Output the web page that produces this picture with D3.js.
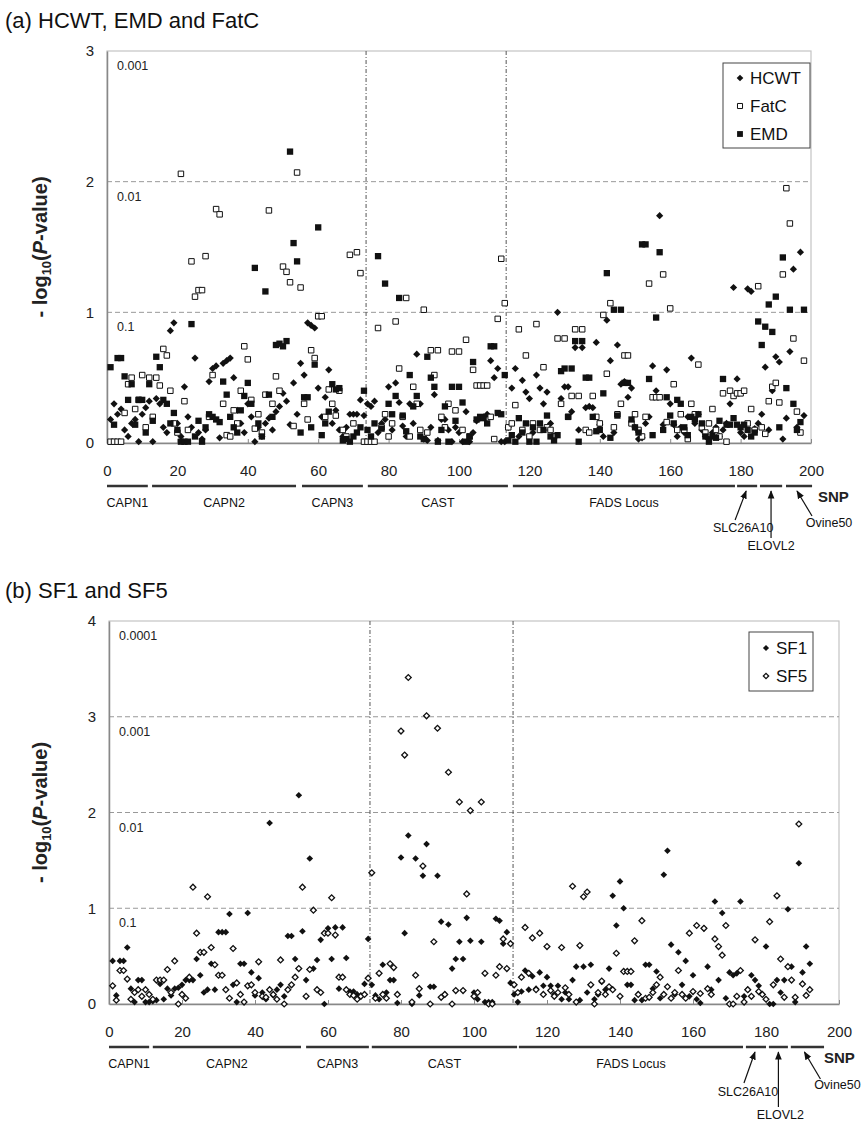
<!DOCTYPE html>
<html><head><meta charset="utf-8">
<script src="https://cdn.jsdelivr.net/npm/d3@7"></script>
<style>
body{margin:0;background:#fff;}
svg{display:block;font-family:"Liberation Sans",Arial,sans-serif;}
</style>
</head><body>
<svg id="c" width="865" height="1129"></svg>
<script>
// ---------- DATA (index i -> SNP i+1) ----------
const hcwt = [
0.18,0.30,0.22,0.26,0.10,0.05,0.15,0.18,0.01,0.22,
0.27,0.32,0.01,0.34,0.30,0.12,0.08,0.86,0.92,0.15,
0.05,0.43,0.20,0.12,0.65,0.08,0.03,0.10,0.47,0.57,
0.59,0.04,0.61,0.63,0.65,0.50,0.25,0.15,0.08,0.30,
0.20,0.01,0.12,0.05,0.15,0.19,0.10,0.24,0.28,0.38,
0.32,0.14,0.46,0.22,0.61,0.52,0.92,0.90,0.88,0.42,
0.20,0.35,0.56,0.15,0.25,0.10,0.05,0.12,0.22,0.22,
0.22,0.33,0.21,0.30,0.28,0.32,0.08,0.15,0.18,0.43,
0.10,0.46,0.31,0.13,0.05,0.30,0.15,0.68,0.30,0.03,
0.02,0.12,0.37,0.02,0.18,0.18,0.10,0.01,0.12,0.08,
0.01,0.24,0.01,0.08,0.17,0.19,0.20,0.22,0.63,0.50,
0.57,0.01,0.01,0.12,0.42,0.57,0.05,0.48,0.39,0.34,
0.08,0.52,0.42,0.30,0.39,0.15,0.05,1.00,0.34,0.43,
0.43,0.24,0.73,0.10,0.73,0.27,0.28,0.27,0.77,0.14,
0.05,0.94,0.63,0.08,0.75,0.45,0.47,0.35,0.42,0.12,
0.03,0.04,0.15,0.20,0.59,0.40,1.74,0.14,0.56,0.30,
0.14,0.05,0.12,0.08,0.20,0.65,0.15,0.22,0.10,0.05,
0.03,0.08,0.12,0.05,0.10,0.15,0.30,1.19,0.49,0.08,
0.05,1.18,1.16,0.11,0.15,0.22,0.58,0.10,0.40,0.66,
0.62,0.03,0.19,0.70,1.33,0.12,1.46,0.21];
const fatc = [
0.01,0.01,0.01,0.01,0.23,0.45,0.50,0.26,0.33,0.52,
0.12,0.50,0.20,0.50,0.44,0.72,0.67,0.40,0.15,0.08,
2.06,0.32,0.10,1.39,1.12,1.17,1.17,1.43,0.20,0.52,
1.79,1.75,0.30,0.06,0.05,0.25,0.15,0.40,0.74,0.64,
0.33,0.11,0.22,0.08,0.37,1.78,0.30,0.51,0.40,1.35,
1.31,1.23,0.13,2.07,1.19,0.30,0.18,0.71,0.65,0.97,
0.97,0.20,0.41,0.30,0.21,0.40,0.10,0.05,1.44,0.15,
1.46,1.30,0.01,0.01,0.01,0.01,0.88,0.12,0.22,0.05,
0.15,0.93,0.57,0.20,1.11,0.05,0.43,0.30,0.10,1.02,
0.08,0.71,0.52,0.71,0.20,0.12,0.30,0.70,0.25,0.70,
0.10,0.79,0.05,0.56,0.44,0.44,0.44,0.44,0.20,0.03,
0.95,1.41,1.07,0.12,0.15,0.29,0.87,0.10,0.67,0.05,
0.15,0.91,0.10,0.58,0.12,0.10,0.05,0.80,0.30,0.80,
0.20,0.36,0.87,0.36,0.87,0.10,0.08,0.36,0.20,0.15,
0.98,0.53,1.07,0.12,0.22,0.30,0.67,0.67,0.15,0.22,
0.10,0.05,0.20,1.22,0.35,0.35,0.35,1.29,0.16,1.03,
0.45,0.10,0.22,0.10,0.03,0.30,0.22,0.60,0.12,0.08,
0.15,0.26,0.10,0.05,0.38,0.01,0.40,0.36,0.38,0.38,
0.40,0.15,0.26,0.10,1.20,0.12,0.07,0.32,0.43,0.46,
0.31,1.29,1.95,1.68,0.80,0.24,0.08,0.63];
const emd = [
0.58,0.14,0.65,0.65,0.51,0.33,0.45,0.14,0.33,0.33,
0.08,0.45,0.17,0.66,0.58,0.33,0.30,0.15,0.23,0.10,
0.01,0.01,0.01,0.91,0.05,0.17,0.01,0.12,0.22,0.20,
0.18,0.16,0.47,0.37,0.20,0.12,0.08,0.25,0.36,0.46,
0.30,1.34,0.15,0.05,1.16,0.37,0.20,0.75,0.76,0.74,
0.78,2.23,1.53,1.39,0.08,0.35,0.35,0.12,0.60,1.65,
0.06,0.15,0.24,0.45,0.41,0.42,0.02,0.03,0.01,0.05,
0.08,0.12,0.40,0.10,0.05,0.15,1.43,0.11,1.22,0.30,
0.22,0.36,1.11,0.21,0.09,0.52,0.28,0.36,0.05,0.03,
0.66,0.50,0.43,0.01,0.10,0.28,0.01,0.43,0.17,0.43,
0.31,0.01,0.05,0.62,0.18,0.20,0.19,0.15,0.74,0.74,
0.23,0.22,0.52,0.02,0.06,0.01,0.19,0.08,0.15,0.01,
0.12,0.01,0.15,0.10,0.21,0.05,0.02,0.06,0.55,0.57,
0.20,0.57,0.78,0.01,0.78,0.50,0.50,0.20,0.09,0.10,
0.38,1.30,0.04,1.02,0.21,1.02,0.46,0.46,0.18,0.12,
0.08,1.52,1.52,0.49,0.06,0.96,1.46,0.10,0.35,0.21,
0.15,0.33,0.30,0.12,0.06,0.20,0.18,0.22,0.15,0.05,
0.01,0.05,0.04,0.17,0.49,0.14,0.14,0.19,0.14,0.12,
0.14,0.10,0.05,0.08,0.93,0.75,0.89,1.06,0.85,1.12,
0.12,1.42,0.42,1.02,0.30,0.10,0.16,1.02];
const sf1 = [
0.45,0.09,0.45,0.45,0.59,0.16,0.02,0.25,0.25,0.02,
0.02,0.03,0.04,0.21,0.05,0.16,0.09,0.16,0.17,0.20,
0.25,0.25,0.25,0.47,0.30,0.12,0.15,0.42,0.15,0.75,
0.75,0.75,0.94,0.20,0.02,0.42,0.42,0.95,0.33,0.09,
0.27,0.12,0.05,1.89,0.09,0.15,0.20,0.08,0.71,0.71,
0.47,2.18,0.76,0.25,1.52,0.37,0.46,0.67,0.00,0.79,
0.47,0.80,0.16,0.80,0.48,0.13,0.13,0.10,0.09,0.21,
0.68,0.20,0.09,0.05,0.41,0.12,0.25,0.25,0.01,1.53,
0.74,1.76,0.00,1.52,0.09,1.34,1.67,0.18,0.18,1.34,
0.86,0.10,0.83,0.37,0.47,0.65,0.47,0.90,0.66,0.12,
0.05,0.65,0.02,0.02,0.02,0.89,0.87,0.63,0.75,0.22,
0.10,0.02,0.13,0.35,0.15,0.29,0.16,0.33,0.19,0.28,
0.19,0.10,0.19,0.05,0.12,0.05,0.25,0.39,0.04,0.39,
0.12,0.41,0.05,0.10,0.23,0.15,0.37,1.13,0.82,1.28,
1.00,0.20,0.20,0.04,0.10,0.04,0.41,0.41,0.16,0.34,
0.06,1.35,1.60,0.62,0.10,0.54,0.20,0.45,0.08,0.30,
0.05,0.01,0.79,0.39,0.15,1.07,0.25,0.95,0.06,0.33,
0.30,0.32,1.07,0.08,0.15,0.30,0.25,0.19,0.10,0.60,
0.00,0.00,0.25,0.12,0.25,0.99,0.39,0.02,1.47,0.33,
0.60,0.42];
const sf5 = [
0.19,0.04,0.35,0.35,0.26,0.05,0.12,0.15,0.08,0.15,
0.10,0.05,0.25,0.25,0.25,0.36,0.12,0.45,0.00,0.10,
0.06,0.28,1.22,0.74,0.54,0.54,1.12,0.59,0.41,0.30,
0.30,0.15,0.06,0.58,0.22,0.10,0.02,0.19,0.20,0.12,
0.44,0.08,0.07,0.15,0.10,0.05,0.46,0.00,0.15,0.20,
0.28,0.37,1.22,0.08,0.36,0.98,0.15,0.12,0.74,0.74,
1.11,0.72,0.28,0.28,0.15,0.10,0.09,0.05,0.08,0.10,
0.27,1.37,0.06,0.32,0.10,0.06,0.42,0.38,0.10,2.85,
2.60,3.41,0.02,0.30,0.16,1.44,3.01,0.00,0.65,2.88,
0.07,0.10,2.42,0.00,0.14,2.11,0.14,1.15,2.02,0.08,
0.12,2.11,0.32,0.00,0.00,0.30,0.39,0.68,0.37,0.63,
0.20,0.12,0.28,0.80,0.32,0.69,0.15,0.74,0.10,0.60,
0.14,0.08,0.12,0.59,0.17,0.10,1.23,0.02,0.61,1.12,
1.17,0.20,0.00,0.12,0.24,0.10,0.18,0.15,0.53,0.08,
0.34,0.34,0.34,0.66,0.10,0.87,0.06,0.07,0.12,0.20,
0.28,0.10,0.18,0.06,0.12,0.35,0.10,0.06,0.74,0.13,
0.82,0.11,0.79,0.16,0.10,0.68,0.60,0.51,0.82,0.00,
0.00,0.08,0.35,0.02,0.15,0.08,0.67,0.13,0.10,0.05,
0.86,0.20,1.13,0.47,0.07,0.39,0.25,0.07,1.88,0.21,
0.09,0.15];

const xTicks = [0,20,40,60,80,100,120,140,160,180,200];
const yTicksA = [0,1,2,3];
const yTicksB = [0,1,2,3,4];
const pLabelsA = ["0.1","0.01","0.001"];
const pLabelsB = ["0.1","0.01","0.001","0.0001"];
const regionLinesA = [73.6, 113.4];
const regionLinesB = [71.5, 110.7];
const genesA = [
  {name:"CAPN1",from:0,to:11.6},{name:"CAPN2",from:12.8,to:53.7},
  {name:"CAPN3",from:55.4,to:72.7},{name:"CAST",from:74.1,to:113.9},
  {name:"FADS Locus",from:115.3,to:178.4},{name:"SLC26A10",from:179,to:184.7,arrow:true},
  {name:"ELOVL2",from:185.5,to:191.8,arrow:true},{name:"Ovine50",from:192.9,to:200.3,arrow:true}];
const genesB = [
  {name:"CAPN1",from:0,to:11},{name:"CAPN2",from:12,to:52.6},
  {name:"CAPN3",from:54,to:71.2},{name:"CAST",from:72,to:111.8},
  {name:"FADS Locus",from:112.3,to:173.7},{name:"SLC26A10",from:174.5,to:180,arrow:true},
  {name:"ELOVL2",from:180.8,to:186,arrow:true},{name:"Ovine50",from:186.8,to:195.9,arrow:true}];

// ---------- DRAW ----------
const svg = d3.select("#c");
const defs = svg.append("defs");
defs.append("marker").attr("id","ah").attr("viewBox","0 0 10 10").attr("refX",9).attr("refY",5)
  .attr("markerWidth",7).attr("markerHeight",7).attr("orient","auto-start-reverse")
  .append("path").attr("d","M0,1 L10,5 L0,9 Z").attr("fill","#111");

const sq = (s)=>d3.symbol().type(d3.symbolSquare).size(s)();
const geneFont = "'Liberation Sans', Arial, sans-serif";

function drawPanel(cfg){
  const g = svg.append("g");
  const x = d3.scaleLinear().domain([0,200]).range([cfg.x0,cfg.x1]);
  const y = d3.scaleLinear().domain([0,cfg.ymax]).range([cfg.y0,cfg.y1]);

  g.append("text").attr("x",5).attr("y",cfg.titleY).attr("font-size",22).attr("fill","#111").text(cfg.title);

  g.append("rect").attr("x",cfg.x0).attr("y",cfg.y1).attr("width",cfg.x1-cfg.x0).attr("height",cfg.y0-cfg.y1)
    .attr("fill","none").attr("stroke","#c4c4c4").attr("stroke-width",1.2);

  cfg.yTicks.filter(v=>v>0&&v<cfg.ymax).forEach(v=>{
    g.append("line").attr("x1",cfg.x0).attr("x2",cfg.x1).attr("y1",y(v)).attr("y2",y(v))
      .attr("stroke","#999").attr("stroke-width",1).attr("stroke-dasharray","5,3");
  });
  cfg.regionLines.forEach(s=>{
    g.append("line").attr("x1",x(s)).attr("x2",x(s)).attr("y1",cfg.y1).attr("y2",cfg.y0)
      .attr("stroke","#555").attr("stroke-width",1).attr("stroke-dasharray","4,2,1,2");
  });
  cfg.pLabels.forEach((t,i)=>{
    g.append("text").attr("x",cfg.x0+10).attr("y",y(i+1)+19).attr("font-size",12.5).attr("fill","#222").text(t);
  });

  const xa = g.append("g").attr("transform",`translate(0,${cfg.y0})`)
    .call(d3.axisBottom(x).tickValues(xTicks).tickSizeInner(-4).tickSizeOuter(0).tickPadding(22).tickFormat(d3.format("d")));
  xa.select(".domain").attr("stroke","#888").attr("stroke-width",1.5);
  xa.selectAll(".tick line").attr("stroke","#888");
  xa.selectAll("text").attr("font-size",15).attr("fill","#222").attr("font-family","Liberation Sans, Arial, sans-serif");
  const ya = g.append("g").attr("transform",`translate(${cfg.x0},0)`)
    .call(d3.axisLeft(y).tickValues(cfg.yTicks).tickSize(0).tickPadding(13).tickFormat(d3.format("d")));
  ya.select(".domain").attr("stroke","#888").attr("stroke-width",1.5);
  ya.selectAll("text").attr("font-size",15).attr("fill","#222").attr("font-family","Liberation Sans, Arial, sans-serif");

  const yl = g.append("text").attr("transform",`translate(47,${(cfg.y0+cfg.y1)/2}) rotate(-90)`)
    .attr("text-anchor","middle").attr("font-size",20).attr("font-weight","bold").attr("fill","#222");
  yl.append("tspan").text("- log");
  yl.append("tspan").attr("font-size",13).attr("dy",4).text("10");
  yl.append("tspan").attr("dy",-4).text("(");
  yl.append("tspan").attr("font-style","italic").text("P");
  yl.append("tspan").text("-value)");

  cfg.series.forEach(s=>{
    const gg = g.append("g");
    s.values.forEach((v,i)=>{
      const p = gg.append("path").attr("transform",`translate(${x(i+1)},${y(v)})${s.rot?" rotate(45)":""}`)
        .attr("d",sq(s.size));
      if(s.open) p.attr("fill","#fff").attr("stroke","#111").attr("stroke-width",s.sw||1);
      else p.attr("fill","#111");
    });
  });

  const L = cfg.legend;
  g.append("rect").attr("x",L.x).attr("y",L.y).attr("width",L.w).attr("height",L.h)
    .attr("fill","#fff").attr("stroke","#444").attr("stroke-width",1);
  cfg.series.forEach((s,i)=>{
    const cy = L.y + L.first + i*L.step;
    const p = g.append("path").attr("transform",`translate(${L.x+17},${cy})${s.rot?" rotate(45)":""}`).attr("d",sq(s.size*0.85));
    if(s.open) p.attr("fill","#fff").attr("stroke","#111").attr("stroke-width",s.sw||1); else p.attr("fill","#111");
    g.append("text").attr("x",L.x+27).attr("y",cy+6).attr("font-size",17).attr("fill","#111").text(s.name);
  });

  const by = cfg.y0 + 43;
  cfg.genes.forEach(gn=>{
    g.append("line").attr("x1",x(gn.from)).attr("x2",x(gn.to)).attr("y1",by).attr("y2",by)
      .attr("stroke","#333").attr("stroke-width",2.5);
    if(!gn.arrow){
      g.append("text").attr("x",(x(gn.from)+x(gn.to))/2).attr("y",by+21).attr("text-anchor","middle")
        .attr("font-size",12.5).attr("font-family",geneFont).attr("fill","#111").text(gn.name);
    }
  });
  cfg.arrows.forEach(a=>{
    const gn = cfg.genes.find(d=>d.name===a.name);
    const cx = (x(gn.from)+x(gn.to))/2;
    g.append("line").attr("x1",cx+a.tx).attr("y1",by+a.ty).attr("x2",cx+a.hx).attr("y2",by+5)
      .attr("stroke","#111").attr("stroke-width",1.2).attr("marker-end","url(#ah)");
    g.append("text").attr("x",cx+a.lx).attr("y",by+a.ly).attr("text-anchor","middle")
      .attr("font-size",12.5).attr("font-family",geneFont).attr("fill","#111").text(gn.name);
  });
  g.append("text").attr("x",cfg.snpX).attr("y",by+16).attr("font-size",15).attr("font-weight","bold")
    .attr("fill","#222").text("SNP");
}

drawPanel({
  title:"(a) HCWT, EMD and FatC", titleY:28,
  x0:107, x1:811, y0:443, y1:51, ymax:3,
  yTicks:yTicksA, pLabels:pLabelsA, regionLines:regionLinesA, genes:genesA,
  series:[
    {name:"HCWT",values:hcwt,size:26,rot:true},
    {name:"FatC",values:fatc,size:30,open:true,sw:1},
    {name:"EMD",values:emd,size:40}
  ],
  legend:{x:723,y:63,w:87,h:85,first:15,step:28},
  arrows:[
    {name:"SLC26A10",tx:-12,ty:34,hx:-1,lx:-4,ly:46},
    {name:"ELOVL2",tx:0,ty:52,hx:0,lx:0,ly:64},
    {name:"Ovine50",tx:13,ty:30,hx:-2,lx:30,ly:41}
  ],
  snpX:818
});
drawPanel({
  title:"(b) SF1 and SF5", titleY:598,
  x0:109, x1:839, y0:1004, y1:621, ymax:4,
  yTicks:yTicksB, pLabels:pLabelsB, regionLines:regionLinesB, genes:genesB,
  series:[
    {name:"SF1",values:sf1,size:22,rot:true},
    {name:"SF5",values:sf5,size:17,rot:true,open:true,sw:1.3}
  ],
  legend:{x:749,y:632,w:64,h:59,first:16,step:28},
  arrows:[
    {name:"SLC26A10",tx:-12,ty:36,hx:-1,lx:-8,ly:49},
    {name:"ELOVL2",tx:0,ty:60,hx:0,lx:2,ly:72},
    {name:"Ovine50",tx:13,ty:32,hx:-3,lx:30,ly:42}
  ],
  snpX:824
});
</script>
</body></html>
